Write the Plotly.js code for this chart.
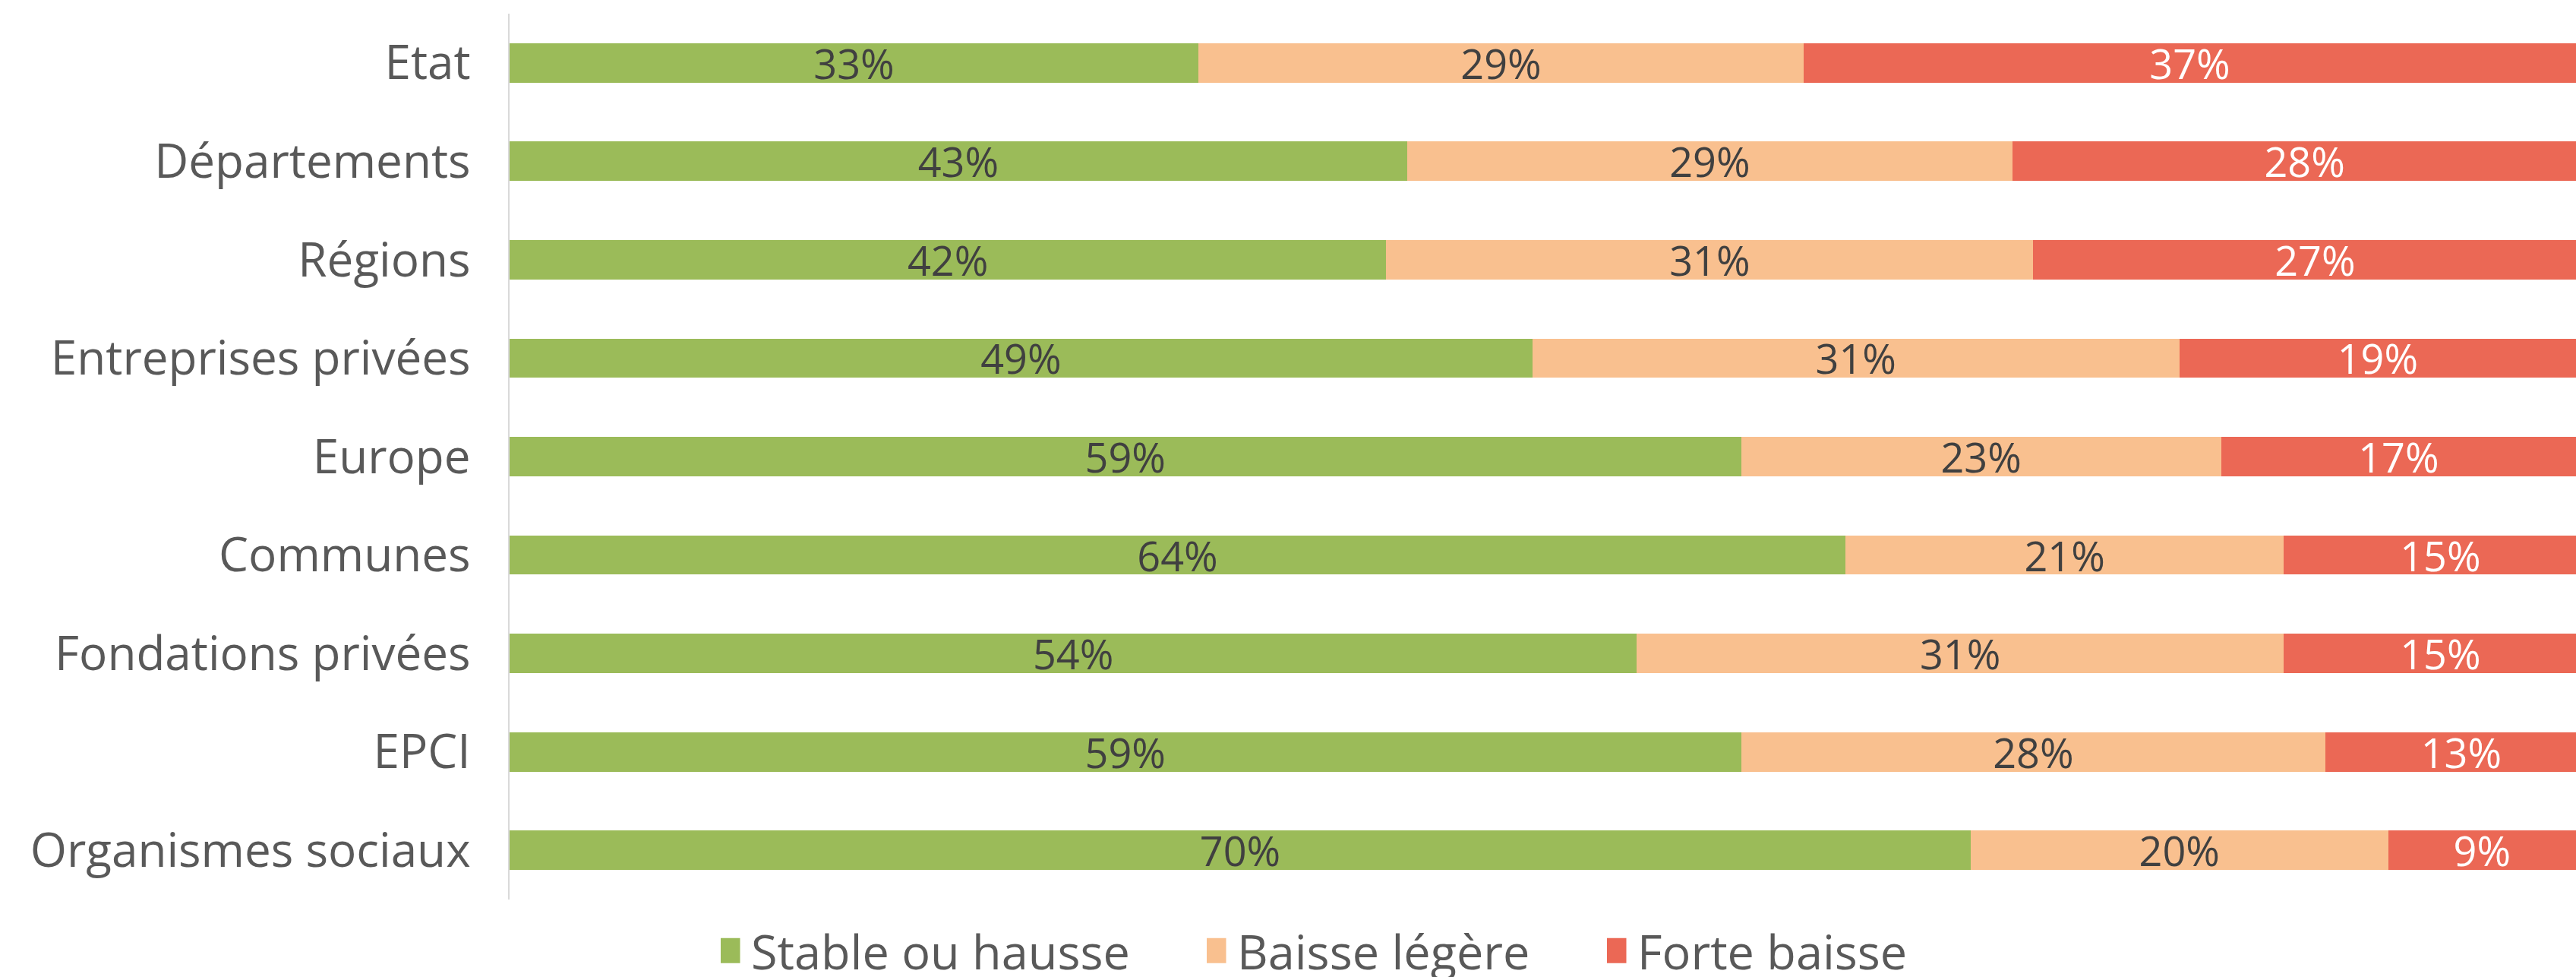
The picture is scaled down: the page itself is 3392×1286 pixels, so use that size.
<!DOCTYPE html>
<html>
<head>
<meta charset="utf-8">
<script src="https://cdn.plot.ly/plotly-3.0.1.min.js"></script>
<style>html,body{margin:0;padding:0;background:#fff;overflow:hidden}</style>
</head>
<body>
<div id="chart" style="width:3392px;height:1286px"></div>
<script>
const categories = ["Etat","Départements","Régions","Entreprises privées","Europe","Communes","Fondations privées","EPCI","Organismes sociaux"];
const stableOuHausse = [33,43,42,49,59,64,54,59,70];
const baisseLegere = [29,29,31,31,23,21,31,28,20];
const forteBaisse = [37,28,27,19,17,15,15,13,9];
const seriesNames = ["Stable ou hausse","Baisse légère","Forte baisse"];
const seriesColors = ["#9BBB59","#F9C08F","#EB6855"];
const labelColors = ["#404040","#404040","#FFFFFF"];

const font = "'Open Sans', 'Noto Sans', sans-serif";
const legendIds = ["legend","legend2","legend3"];
const legendX = [949, 1589, 2116];

const data = [stableOuHausse, baisseLegere, forteBaisse].map((vals, i) => ({
  type: "bar",
  orientation: "h",
  name: seriesNames[i],
  legend: legendIds[i],
  y: categories,
  x: vals.map(v => v / 100),
  text: vals.map(v => v + "%"),
  textposition: "inside",
  insidetextanchor: "middle",
  textangle: 0,
  constraintext: "none",
  textfont: {family: font, size: 54, color: labelColors[i]},
  marker: {color: seriesColors[i], line: {width: 0}},
  hoverinfo: "skip"
}));

const layout = {
  width: 3392,
  height: 1286,
  paper_bgcolor: "#FFFFFF",
  plot_bgcolor: "#FFFFFF",
  barmode: "stack",
  bargap: 0.6,
  margin: {l: 671, r: 0, t: 18, b: 102},
  font: {family: font, color: "#595959"},
  xaxis: {
    range: [0, 0.99],
    showgrid: false,
    zeroline: false,
    showticklabels: false,
    showline: false,
    ticks: "",
    fixedrange: true
  },
  yaxis: {
    autorange: "reversed",
    showgrid: false,
    zeroline: false,
    showline: true,
    linecolor: "#D9D9D9",
    linewidth: 2,
    ticks: "",
    ticklabelstandoff: 37,
    tickfont: {family: font, size: 62, color: "#595959"},
    automargin: false,
    fixedrange: true
  },
  showlegend: true
};
legendIds.forEach((id, i) => {
  layout[id] = {
    orientation: "h",
    xref: "container",
    yref: "container",
    x: legendX[i] / 3392,
    xanchor: "left",
    y: 0.027,
    yanchor: "middle",
    font: {family: font, size: 63, color: "#595959"},
    itemclick: false,
    itemdoubleclick: false,
    bgcolor: "rgba(0,0,0,0)"
  };
});

Plotly.newPlot("chart", data, layout, {displayModeBar: false, staticPlot: true}).then(() => {
  document.querySelectorAll(".legendpoints path").forEach(p => {
    p.setAttribute("d", "M-27.5,-16.5H5.5V16.5H-27.5Z");
    p.style.strokeWidth = "0";
  });
});
</script>
</body>
</html>
